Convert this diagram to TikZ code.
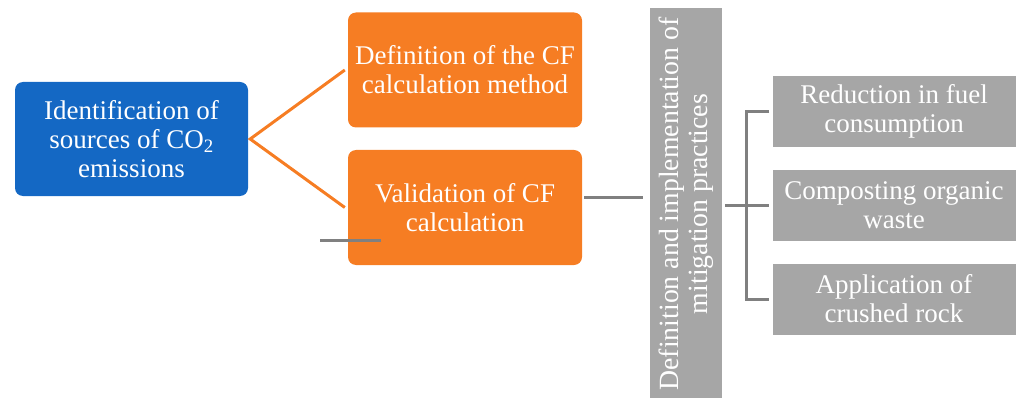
\documentclass[tikz,border=0pt]{standalone}
\usepackage{fontspec}
\setmainfont{Liberation Serif}
\definecolor{cfblue}{RGB}{20,104,196}
\definecolor{cforange}{RGB}{246,125,35}
\definecolor{cfgray}{RGB}{166,166,166}
\definecolor{cfline}{RGB}{128,128,128}
\begin{document}
\begin{tikzpicture}[x=1pt,y=1pt,
  boxtxt/.style={text=white, align=center, font=\fontsize{27}{29}\selectfont, inner sep=0pt},
  bluebox/.style={boxtxt, fill=cfblue, rounded corners=8pt, minimum width=233pt, minimum height=114pt},
  orangebox/.style={boxtxt, fill=cforange, rounded corners=8pt, minimum width=234pt, minimum height=115pt},
  graybox/.style={boxtxt, fill=cfgray, minimum width=243pt, minimum height=71pt},
  vertbox/.style={boxtxt, font=\fontsize{27.8}{28.5}\selectfont, fill=cfgray, rotate=90, minimum width=392pt, minimum height=72pt},
  orangeline/.style={draw=cforange, line width=3pt},
  grayline/.style={draw=cfline, line width=3pt}]
\useasboundingbox (0,0) rectangle (1019,-398);
\node[bluebox] (src) at (131.5,-139) {Identification of\\sources of CO\textsubscript{2}\\emissions};
\node[orangebox] (def) at (465,-70) {Definition of the CF\\calculation method};
\node[orangebox] (val) at (465,-207.5) {Validation of CF\\calculation};
\node[vertbox] (mit) at (686,-204) {Definition and implementation of\\mitigation practices};
\node[graybox] (red) at (894,-111.5) {Reduction in fuel\\consumption};
\node[graybox] (com) at (894,-205.5) {Composting organic\\waste};
\node[graybox] (app) at (894,-299) {Application of\\crushed rock};
% orange fork
\draw[orangeline] ([xshift=-3pt]def.west) -- ([xshift=2pt]src.east) -- ([xshift=-3pt]val.west);
% gray links
\coordinate (vj) at (643,-197);
\draw[grayline] ([shift={(2pt,10.5pt)}]val.east) -- (vj);
\coordinate (s1) at (320,-240);
\coordinate (s2) at (381,-240);
\draw[grayline] (s1) -- (s2);
\draw[grayline] ([xshift=3pt]mit.south |- com.west) -- ([xshift=-3pt]com.west);
\draw[grayline] ([xshift=-3pt]red.west) -| ([xshift=-26pt]app.west) -- ([xshift=-3pt]app.west);
\end{tikzpicture}
\end{document}
